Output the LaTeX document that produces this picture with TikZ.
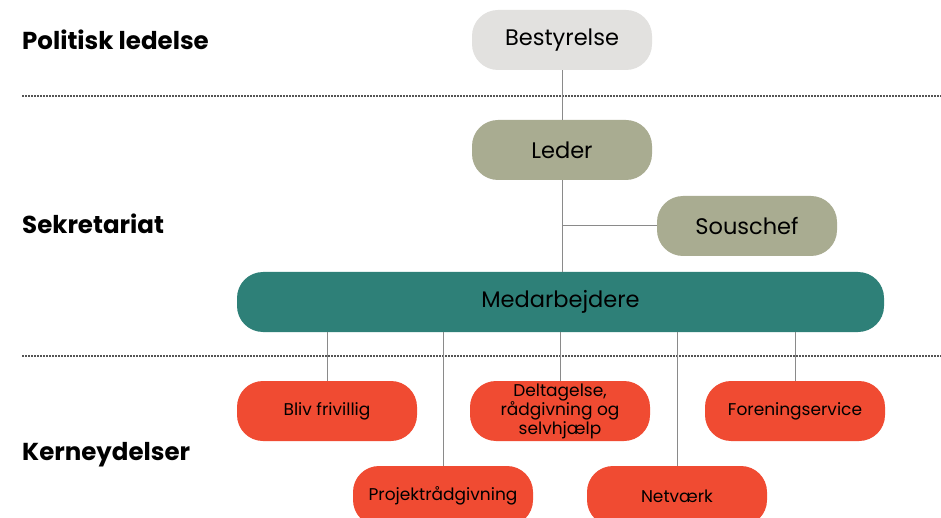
\documentclass[tikz,border=0pt]{standalone}
\usepackage{fontspec}
\setmainfont{Poppins}
\definecolor{grayfill}{HTML}{E2E1DF}
\definecolor{olive}{HTML}{A9AC91}
\definecolor{teal2}{HTML}{2E8078}
\definecolor{redbox}{HTML}{F04B32}
\definecolor{linegray}{HTML}{8A8A8A}
\definecolor{dotgray}{HTML}{555555}
\begin{document}
\begin{tikzpicture}[x=1pt,y=-1pt,
  box/.style={rounded corners=26pt, minimum width=180pt, minimum height=60pt, inner sep=0pt, align=center, text=black},
  bigtext/.style={font=\fontsize{22.5}{26}\selectfont},
  smalltext/.style={font=\fontsize{17}{19}\selectfont},
  level/.style={anchor=west, font=\fontsize{24.5}{28}\selectfont\bfseries, text=black, inner sep=0pt},
  conn/.style={draw=linegray, line width=1pt},
  sep/.style={draw=dotgray, line width=1.6pt, dash pattern=on 1.6pt off 1.4pt}
]
\useasboundingbox (0,0) rectangle (941,518);
\fill[white] (0,0) rectangle (941,518);
% separators
\coordinate (s1a) at (22,96); \coordinate (s1b) at (941,96);
\coordinate (s2a) at (22,356); \coordinate (s2b) at (941,356);
\draw[sep] (s1a) -- (s1b);
\draw[sep] (s2a) -- (s2b);
% level labels
\node[level] (pl) at (22,40) {Politisk ledelse};
\node[level] (sk) at (22,224) {Sekretariat};
\node[level] (kd) at (22,455) {Kerneydelser};
% nodes
\node[box, bigtext, fill=grayfill] (best) at (562,40) {Bestyrelse};
\node[box, bigtext, fill=olive] (leder) at (562,150) {Leder};
\node[box, bigtext, fill=olive] (sous) at (747,226) {Souschef};
\node[box, bigtext, fill=teal2, minimum width=647pt] (med) at (560.5,302) {Medarbejdere};
\node[box, smalltext, fill=redbox] (bliv) at (327,411) {Bliv frivillig};
\node[box, smalltext, fill=redbox] (delt) at (560,411) {Deltagelse,\\rådgivning og\\selvhjælp};
\node[box, smalltext, fill=redbox] (fore) at (795,411) {Foreningservice};
\node[box, smalltext, fill=redbox] (proj) at (443,496) {Projektrådgivning};
\node[box, smalltext, fill=redbox] (netv) at (677,496) {Netværk};
% connectors
\draw[conn] (best.south) -- (leder.north);
\draw[conn] (leder.south) -- (leder.south |- med.north);
\draw[conn] (leder.south |- sous.west) -- (sous.west);
\draw[conn] (bliv.north |- med.south) -- (bliv.north);
\draw[conn] (delt.north |- med.south) -- (delt.north);
\draw[conn] (fore.north |- med.south) -- (fore.north);
\draw[conn] (proj.north |- med.south) -- (proj.north);
\draw[conn] (netv.north |- med.south) -- (netv.north);
\end{tikzpicture}
\end{document}
